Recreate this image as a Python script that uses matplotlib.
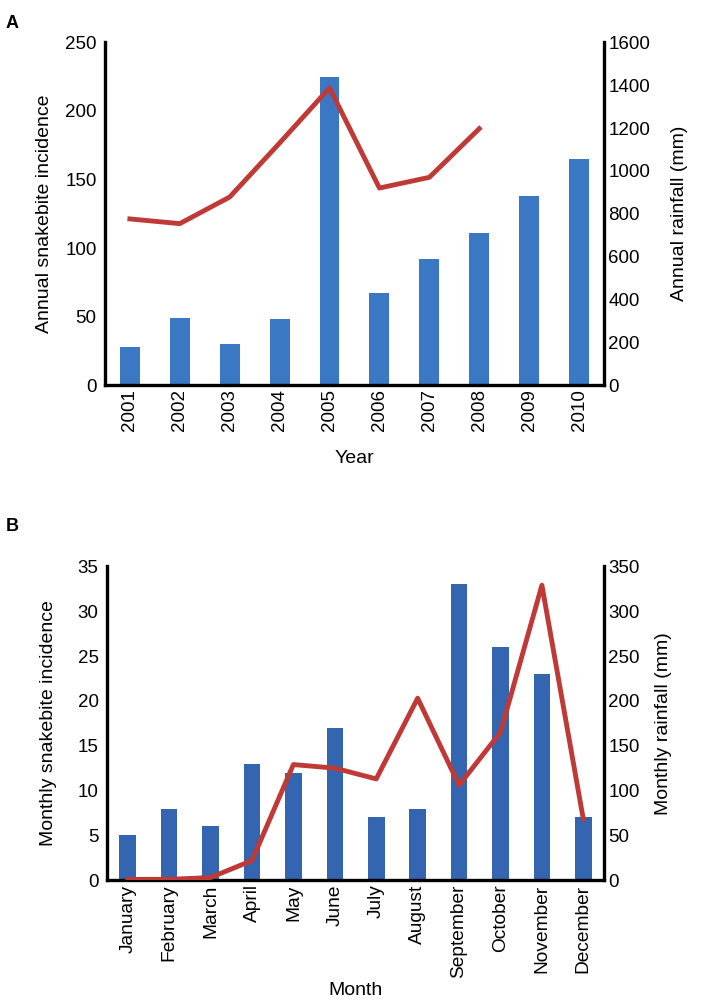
import numpy as np
import matplotlib
matplotlib.use("Agg")
import matplotlib.pyplot as plt

plt.rcParams['font.family'] = ['Liberation Sans', 'DejaVu Sans']

# Panel A - annual data
years = ['2001', '2002', '2003', '2004', '2005', '2006', '2007', '2008', '2009', '2010']
annual_bites = [28, 49, 30, 48, 225, 67, 92, 111, 138, 165]
annual_rain = [776, 754, 878, 1130, 1387, 920, 970, 1197]  # 2001-2008 only

# Panel B - monthly data
months = ['January', 'February', 'March', 'April', 'May', 'June', 'July',
          'August', 'September', 'October', 'November', 'December']
monthly_bites = [5, 8, 6, 13, 12, 17, 7, 8, 33, 26, 23, 7]
monthly_rain = [1, 1, 3, 22, 129, 125, 113, 203, 106, 165, 329, 68]

bar_a = '#3b78c3'
bar_b = '#3465b0'
line_col = '#bf3a37'
tick_fs = 13.5
label_fs = 14

fig = plt.figure(figsize=(7.04, 10.06), dpi=100)


def style(ax, ax2):
    for a in (ax, ax2):
        a.spines['top'].set_visible(False)
        for s in ('left', 'right', 'bottom'):
            a.spines[s].set_linewidth(2.4)
        a.tick_params(length=0, labelsize=tick_fs, pad=3)
    ax.tick_params(axis='y', pad=6)
    ax.spines['right'].set_visible(False)
    ax2.spines['left'].set_visible(False)
    ax2.spines['bottom'].set_visible(False)


# ---- Panel A ----
ax = fig.add_axes([0.149, 0.617, 0.709, 0.341])
x = np.arange(len(years))
ax.bar(x, annual_bites, width=0.4, color=bar_a, zorder=2)
ax.set_xlim(-0.5, len(years) - 0.5)
ax.set_ylim(0, 250)
ax.set_yticks(range(0, 251, 50))
ax.set_xticks(x)
ax.set_xticklabels(years, rotation=90)
ax.set_ylabel('Annual snakebite incidence', fontsize=label_fs, labelpad=8.5)
ax.set_xlabel('Year', fontsize=label_fs, labelpad=13)
ax2 = ax.twinx()
ax2.plot(x[:len(annual_rain)], annual_rain, color=line_col, lw=3.5, zorder=3)
ax2.set_ylim(0, 1600)
ax2.set_yticks(range(0, 1601, 200))
ax2.set_ylabel('Annual rainfall (mm)', fontsize=label_fs, labelpad=15)
style(ax, ax2)
fig.text(0.008, 0.985, 'A', fontsize=13, fontweight='bold', va='top')

# ---- Panel B ----
bx = fig.add_axes([0.152, 0.125, 0.706, 0.312])
m = np.arange(len(months))
bx.bar(m, monthly_bites, width=0.4, color=bar_b, zorder=2)
bx.set_xlim(-0.5, len(months) - 0.5)
bx.set_ylim(0, 35)
bx.set_yticks(range(0, 36, 5))
bx.set_xticks(m)
bx.set_xticklabels(months, rotation=90)
bx.set_ylabel('Monthly snakebite incidence', fontsize=label_fs, labelpad=15)
bx.set_xlabel('Month', fontsize=label_fs, labelpad=3)
bx2 = bx.twinx()
bx2.plot(m, monthly_rain, color=line_col, lw=3.5, zorder=3)
bx2.set_ylim(0, 350)
bx2.set_yticks(range(0, 351, 50))
bx2.set_ylabel('Monthly rainfall (mm)', fontsize=label_fs, labelpad=11)
style(bx, bx2)
bx.tick_params(axis='x', labelsize=13.8)
fig.text(0.008, 0.485, 'B', fontsize=13, fontweight='bold', va='top')

fig.savefig('out.png', dpi=100)
